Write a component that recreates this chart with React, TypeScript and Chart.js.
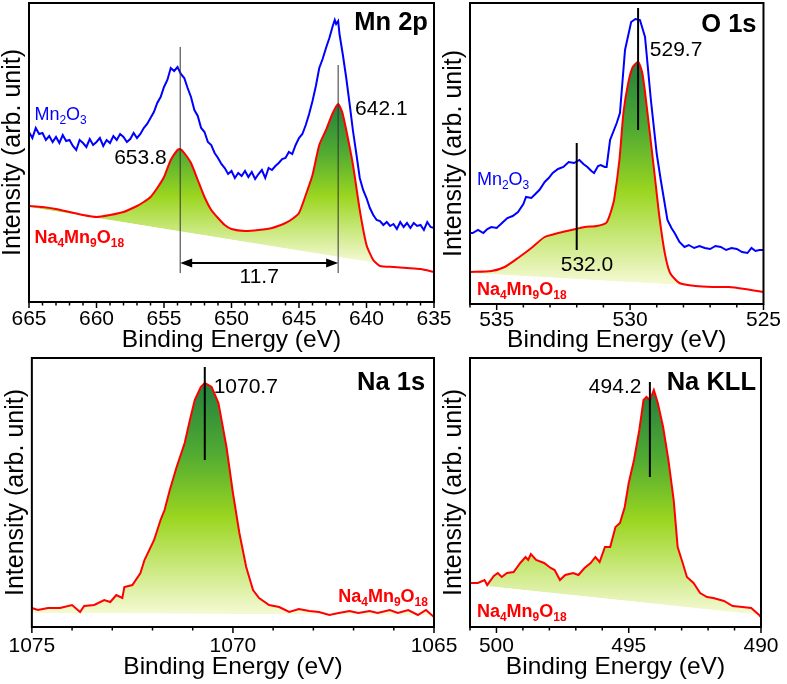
import React, { useEffect, useRef } from 'react';
import { Chart, registerables } from 'chart.js';

Chart.register(...registerables);

const FONT = '"Liberation Sans", Arial, Helvetica, sans-serif';

// ---------------- Mn 2p ----------------
const mnTicks = [665, 660, 655, 650, 645, 640, 635];
const mnRedEnergy = [665, 664, 663, 662, 661, 660, 659, 658, 657, 656.5, 656, 655.5, 655, 654.5, 654, 653.8, 653.5, 653, 652.5, 652, 651.5, 651, 650.5, 650, 649, 648, 647, 646, 645.5, 645, 644.5, 644, 643.5, 643, 642.5, 642.1, 641.8, 641.5, 641, 640.5, 640, 639.5, 639, 638, 637, 636, 635];
const mnRedIntensity = [94, 93, 91, 88, 85, 83, 85, 88, 94, 98, 103, 112, 123, 140, 150, 151, 147, 137, 120, 103, 90, 82, 75, 71, 69, 70, 72, 77, 81, 87, 105, 125, 155, 170, 187, 196, 188, 170, 135, 90, 55, 40, 34, 33, 32, 31, 28];
const mnBlueEnergy = [665, 664.75, 664.5, 664.25, 664, 663.75, 663.5, 663.25, 663, 662.75, 662.5, 662.25, 662, 661.75, 661.5, 661.25, 661, 660.75, 660.5, 660.25, 660, 659.75, 659.5, 659.25, 659, 658.75, 658.5, 658.25, 658, 657.75, 657.5, 657.25, 657, 656.75, 656.5, 656.25, 656, 655.75, 655.5, 655.25, 655, 654.75, 654.5, 654.25, 654, 653.75, 653.5, 653.25, 653, 652.75, 652.5, 652.25, 652, 651.75, 651.5, 651.25, 651, 650.75, 650.5, 650.25, 650, 649.75, 649.5, 649.25, 649, 648.75, 648.5, 648.25, 648, 647.75, 647.5, 647.25, 647, 646.75, 646.5, 646.25, 646, 645.75, 645.5, 645.25, 645, 644.75, 644.5, 644.25, 644, 643.75, 643.5, 643.25, 643, 642.75, 642.5, 642.35, 642.25, 642.1, 642, 641.75, 641.5, 641.25, 641, 640.75, 640.5, 640.25, 640, 639.75, 639.5, 639.25, 639, 638.75, 638.5, 638.25, 638, 637.75, 637.5, 637.25, 637, 636.75, 636.5, 636.25, 636, 635.75, 635.5, 635.25, 635];
const mnBlueIntensity = [168, 162, 172, 166, 167, 160, 164, 158, 163, 157, 165, 159, 160, 154, 150, 160, 157, 153, 161, 155, 158, 162, 154, 160, 157, 164, 160, 166, 163, 158, 161, 167, 162, 166, 172, 176, 182, 188, 197, 203, 213, 220, 232, 229, 233, 226, 222, 212, 203, 190, 184, 172, 168, 158, 155, 147, 142, 136, 132, 126, 129, 122, 127, 124, 129, 123, 128, 121, 126, 130, 122, 132, 130, 134, 137, 141, 142, 148, 146, 155, 162, 166, 175, 186, 199, 214, 232, 241, 252, 262, 274, 280, 276, 279, 266, 245, 222, 196, 169, 146, 122, 110, 102, 92, 85, 80, 79, 75, 78, 74, 76, 71, 78, 73, 77, 72, 77, 74, 75, 70, 78, 73, 72];
const mnBaseEnergy = [665, 639.3];
const mnBaseIntensity = [93, 37];
const mnPeaks = [653.8, 642.1];
const mnSplitting = '11.7';

// ---------------- O 1s ----------------
const oTicks = [535, 530, 525];
const oRedEnergy = [536, 535.2, 534.7, 534.2, 533.7, 533.2, 532.7, 532.2, 531.7, 531.25, 530.9, 530.8, 530.7, 530.6, 530.4, 530.25, 530.07, 529.9, 529.7, 529.55, 529.45, 529.26, 529.07, 528.9, 528.7, 528.5, 528.15, 527.55, 526.9, 526.3, 525.7, 525];
const oRedIntensity = [32, 33, 37, 46, 56, 67, 71, 74, 77, 78, 81, 86, 94, 104, 144, 191, 221, 237, 242, 232, 214, 171, 127, 87, 51, 31, 21, 18, 17, 17, 15, 12];
const oBlueEnergy = [536, 535.9, 535.7, 535.5, 535.35, 535.2, 535, 534.8, 534.6, 534.4, 534.2, 534, 533.9, 533.7, 533.55, 533.4, 533.2, 533.05, 532.9, 532.7, 532.5, 532.3, 532.1, 531.9, 531.75, 531.6, 531.45, 531.35, 531.2, 531.1, 530.95, 530.88, 530.75, 530.5, 530.38, 530.19, 529.96, 529.8, 529.63, 529.44, 529.22, 529, 528.85, 528.6, 528.45, 528.33, 528.15, 527.96, 527.8, 527.6, 527.4, 527.2, 527, 526.8, 526.6, 526.4, 526.2, 526, 525.8, 525.6, 525.45, 525.3, 525.15, 525];
const oBlueIntensity = [71, 71, 74, 71, 75, 77, 76, 81, 86, 88, 92, 100, 107, 106, 110, 114, 122, 126, 131, 135, 137, 142, 141, 144, 140, 137, 133, 131, 138, 139, 137, 137, 164, 181, 191, 254, 282, 285, 284, 267, 204, 150, 124, 84, 76, 71, 62, 57, 59, 56, 58, 56, 55, 58, 57, 54, 56, 55, 52, 51, 56, 53, 54, 54];
const oBaseEnergy = [536, 528.1];
const oBaseIntensity = [31, 19];
const oPeaks = [529.7, 532.0];

// ---------------- Na 1s ----------------
const naTicks = [1075, 1070, 1065];
const naEnergy = [1075, 1074.85, 1074.6, 1074.3, 1074.0, 1073.8, 1073.7, 1073.45, 1073.2, 1073.05, 1072.9, 1072.75, 1072.7, 1072.5, 1072.3, 1072.2, 1071.96, 1071.8, 1071.7, 1071.57, 1071.4, 1071.2, 1071.07, 1070.95, 1070.8, 1070.7, 1070.53, 1070.36, 1070.16, 1070.0, 1069.84, 1069.67, 1069.5, 1069.35, 1069.1, 1068.85, 1068.6, 1068.36, 1068.1, 1067.86, 1067.6, 1067.37, 1067.1, 1066.88, 1066.6, 1066.4, 1066.1, 1065.9, 1065.64, 1065.4, 1065.2, 1065];
const naIntensity = [19, 17, 19, 19, 22, 15, 21, 22, 27, 25, 32, 29, 40, 42, 54, 67, 87, 107, 117, 137, 160, 184, 207, 227, 240, 244, 240, 224, 180, 134, 94, 60, 37, 29, 22, 20, 15, 18, 16, 15, 12, 14, 16, 14, 16, 14, 17, 14, 17, 12, 17, 10];
const naBaseEnergy = [1075, 1065];
const naBaseIntensity = [14, 12];
const naPeaks = [1070.7];

// ---------------- Na KLL ----------------
const kllTicks = [500, 495, 490];
const kllEnergy = [501, 500.9, 500.7, 500.45, 500.35, 500.1, 499.95, 499.8, 499.6, 499.35, 499.1, 498.9, 498.8, 498.7, 498.5, 498.2, 497.95, 497.8, 497.6, 497.4, 497.1, 496.9, 496.67, 496.44, 496.26, 496.1, 495.9, 495.7, 495.5, 495.33, 495.15, 495.0, 494.8, 494.6, 494.44, 494.33, 494.2, 494.05, 493.9, 493.7, 493.5, 493.3, 493.15, 492.96, 492.8, 492.55, 492.3, 492.04, 491.8, 491.4, 491.07, 490.7, 490.37, 490.07, 490];
const kllIntensity = [44, 44, 44, 47, 42, 51, 54, 50, 54, 55, 64, 70, 67, 73, 67, 64, 59, 57, 47, 52, 54, 52, 59, 64, 70, 65, 80, 80, 100, 104, 120, 144, 167, 197, 227, 230, 227, 237, 224, 200, 167, 127, 80, 64, 50, 44, 34, 30, 29, 26, 21, 20, 19, 12, 10];
const kllBaseEnergy = [500.4, 490];
const kllBaseIntensity = [41, 12];
const kllPeaks = [494.2];

const SAMPLE = [['Na', 0], ['4', 1], ['Mn', 0], ['9', 1], ['O', 0], ['18', 1]];
const REF = [['Mn', 0], ['2', 1], ['O', 0], ['3', 1]];

const pts = (xs: number[], ys: number[]) => xs.map((x, i) => ({ x, y: ys[i] }));

function drawRich(ctx: CanvasRenderingContext2D, parts: any[], x: number, y: number, size: number, bold: boolean, color: string, align: string) {
  const w = bold ? 'bold ' : '';
  const sub = Math.round(size * 0.66);
  const widths: number[] = [];
  let total = 0;
  for (const [t, s] of parts) {
    ctx.font = `${w}${s ? sub : size}px ${FONT}`;
    const m = ctx.measureText(t).width;
    widths.push(m);
    total += m;
  }
  let cx = align === 'right' ? x - total : align === 'center' ? x - total / 2 : x;
  ctx.fillStyle = color;
  ctx.textBaseline = 'middle';
  ctx.textAlign = 'left';
  parts.forEach(([t, s], i) => {
    ctx.font = `${w}${s ? sub : size}px ${FONT}`;
    ctx.fillText(t, cx, s ? y + size * 0.33 : y);
    cx += widths[i];
  });
}

function makeDecor(spec: any) {
  return {
    id: 'decor',
    afterDraw(chart: any) {
      const { ctx, chartArea: a, scales } = chart;
      const xs = scales.x;
      const ys = scales.y;
      ctx.save();
      ctx.strokeStyle = '#000';
      ctx.lineWidth = 1.5;
      for (let v = Math.ceil(spec.xMin); v <= Math.floor(spec.xMax); v++) {
        const px = xs.getPixelForValue(v);
        const len = v % 5 === 0 ? 5 : 2.5;
        ctx.beginPath();
        ctx.moveTo(px, a.bottom);
        ctx.lineTo(px, a.bottom + len + 1);
        ctx.stroke();
      }
      ctx.lineWidth = 2;
      ctx.strokeRect(a.left, a.top, a.right - a.left, a.bottom - a.top);
      for (const m of spec.marks) {
        if (m.kind === 'vline') {
          const px = xs.getPixelForValue(m.x);
          ctx.strokeStyle = m.color || '#000';
          ctx.lineWidth = m.w || 2;
          ctx.beginPath();
          ctx.moveTo(px, ys.getPixelForValue(m.y1));
          ctx.lineTo(px, ys.getPixelForValue(m.y2));
          ctx.stroke();
        } else if (m.kind === 'arrow') {
          const p1 = xs.getPixelForValue(m.x1);
          const p2 = xs.getPixelForValue(m.x2);
          const py = ys.getPixelForValue(m.y);
          ctx.strokeStyle = '#000';
          ctx.fillStyle = '#000';
          ctx.lineWidth = 2;
          ctx.beginPath();
          ctx.moveTo(p1 + 8, py);
          ctx.lineTo(p2 - 8, py);
          ctx.stroke();
          ctx.beginPath();
          ctx.moveTo(p1, py);
          ctx.lineTo(p1 + 12, py - 4.5);
          ctx.lineTo(p1 + 12, py + 4.5);
          ctx.closePath();
          ctx.fill();
          ctx.beginPath();
          ctx.moveTo(p2, py);
          ctx.lineTo(p2 - 12, py - 4.5);
          ctx.lineTo(p2 - 12, py + 4.5);
          ctx.closePath();
          ctx.fill();
        } else if (m.kind === 'text') {
          const parts = typeof m.text === 'string' ? [[m.text, 0]] : m.text;
          drawRich(ctx, parts, xs.getPixelForValue(m.x), ys.getPixelForValue(m.y), m.size || 21, !!m.bold, m.color || '#000', m.align || 'left');
        }
      }
      ctx.restore();
    },
  };
}

function gradientFor(spec: any) {
  return (c: any) => {
    const chart = c.chart;
    if (!chart.chartArea || !chart.scales.y) return 'rgba(0,0,0,0)';
    const ys = chart.scales.y;
    const top = ys.getPixelForValue(Math.max(...spec.red));
    const bot = ys.getPixelForValue(Math.min(...spec.baseY));
    const g = chart.ctx.createLinearGradient(0, top, 0, bot);
    g.addColorStop(0, 'rgb(36,128,60)');
    g.addColorStop(0.3, 'rgb(80,170,50)');
    g.addColorStop(0.58, 'rgb(155,214,32)');
    g.addColorStop(1, 'rgb(246,250,214)');
    return g;
  };
}

function Panel({ spec }: { spec: any }) {
  const ref = useRef<HTMLCanvasElement>(null);
  useEffect(() => {
    if (!ref.current) return;
    const datasets: any[] = [
      {
        data: pts(spec.baseX, spec.baseY),
        borderColor: 'rgba(0,0,0,0)',
        borderWidth: 0,
        pointRadius: 0,
        fill: false,
      },
      {
        data: pts(spec.redX, spec.red),
        borderColor: '#ff0000',
        borderWidth: 2,
        pointRadius: 0,
        tension: spec.redTension,
        backgroundColor: gradientFor(spec),
        fill: { target: 0, below: 'rgba(0,0,0,0)' },
      },
    ];
    if (spec.blueX) {
      datasets.push({
        data: pts(spec.blueX, spec.blue),
        borderColor: '#0000ff',
        borderWidth: 2,
        pointRadius: 0,
        tension: 0,
        fill: false,
      });
    }
    const chart = new Chart(ref.current, {
      type: 'line',
      data: { datasets },
      plugins: [makeDecor(spec)],
      options: {
        responsive: false,
        animation: false,
        devicePixelRatio: 1,
        events: [],
        layout: { padding: { top: spec.padTop, right: spec.padRight, left: 0, bottom: 0 } },
        plugins: { legend: { display: false }, tooltip: { enabled: false } },
        scales: {
          x: {
            type: 'linear',
            reverse: true,
            min: spec.xMin,
            max: spec.xMax,
            grid: { display: false, drawTicks: false },
            border: { display: false },
            afterBuildTicks: (s: any) => {
              s.ticks = spec.ticks.map((v: number) => ({ value: v }));
            },
            afterFit: (s: any) => {
              s.height = spec.xHeight;
            },
            ticks: {
              color: '#000',
              font: { family: FONT, size: 21, lineHeight: 1 },
              padding: spec.tickPad,
              maxRotation: 0,
              autoSkip: false,
              callback: (v: any) => String(v),
            },
            title: {
              display: true,
              text: 'Binding Energy (eV)',
              color: '#000',
              font: { family: FONT, size: 24.5, lineHeight: 1 },
              padding: { top: 0, bottom: spec.titlePad },
            },
          },
          y: {
            type: 'linear',
            min: spec.yMin,
            max: spec.yMax,
            grid: { display: false, drawTicks: false },
            border: { display: false },
            ticks: { display: false },
            afterFit: (s: any) => {
              s.width = 29;
            },
            title: {
              display: true,
              text: 'Intensity (arb. unit)',
              color: '#000',
              font: { family: FONT, size: 25, lineHeight: 1 },
              padding: { top: 1, bottom: 0 },
            },
          },
        },
      } as any,
    });
    return () => chart.destroy();
  }, [spec]);
  return (
    <canvas
      ref={ref}
      width={spec.width}
      height={spec.height}
      style={{ position: 'absolute', left: spec.left, top: spec.top, width: spec.width, height: spec.height }}
    />
  );
}

const panels: any[] = [
  {
    left: 0, top: 0, width: 470, height: 356, padTop: 3, padRight: 36, xHeight: 54, tickPad: 6.5, titlePad: 4,
    xMin: 635, xMax: 665, yMin: -2, yMax: 297, ticks: mnTicks, redTension: 0.2,
    redX: mnRedEnergy, red: mnRedIntensity, blueX: mnBlueEnergy, blue: mnBlueIntensity,
    baseX: mnBaseEnergy, baseY: mnBaseIntensity,
    marks: [
      { kind: 'vline', x: mnPeaks[0], y1: 253, y2: 27, w: 1, color: '#333' },
      { kind: 'vline', x: mnPeaks[1], y1: 235, y2: 27, w: 1, color: '#333' },
      { kind: 'arrow', x1: mnPeaks[0], x2: mnPeaks[1], y: 37 },
      { kind: 'text', x: (mnPeaks[0] + mnPeaks[1]) / 2, y: 23, text: mnSplitting, align: 'center' },
      { kind: 'text', x: 654.8, y: 142, text: mnPeaks[0].toFixed(1), align: 'right' },
      { kind: 'text', x: 640.85, y: 191, text: mnPeaks[1].toFixed(1), align: 'left' },
      { kind: 'text', x: 664.6, y: 185, text: REF, size: 18, color: '#0000ff' },
      { kind: 'text', x: 664.6, y: 62, text: SAMPLE, size: 18, bold: true, color: '#ff0000' },
      { kind: 'text', x: 635.45, y: 277, text: 'Mn 2p', size: 25.5, bold: true, align: 'right' },
    ],
  },
  {
    left: 441, top: 0, width: 346, height: 356, padTop: 3, padRight: 20, xHeight: 52, tickPad: 6, titlePad: 4,
    xMin: 525, xMax: 536, yMin: 0, yMax: 301, ticks: oTicks, redTension: 0.2,
    redX: oRedEnergy, red: oRedIntensity, blueX: oBlueEnergy, blue: oBlueIntensity,
    baseX: oBaseEnergy, baseY: oBaseIntensity,
    marks: [
      { kind: 'vline', x: oPeaks[0], y1: 296, y2: 174 },
      { kind: 'text', x: 529.26, y: 254, text: oPeaks[0].toFixed(1), align: 'left' },
      { kind: 'vline', x: oPeaks[1], y1: 161, y2: 54 },
      { kind: 'text', x: 532.6, y: 39, text: oPeaks[1].toFixed(1), align: 'left' },
      { kind: 'text', x: 525.26, y: 279, text: 'O 1s', size: 25.5, bold: true, align: 'right' },
      { kind: 'text', x: 535.74, y: 124, text: REF, size: 18, color: '#0000ff' },
      { kind: 'text', x: 535.74, y: 14, text: SAMPLE, size: 18, bold: true, color: '#ff0000' },
    ],
  },
  {
    left: 0, top: 356, width: 470, height: 328, padTop: 2, padRight: 36, xHeight: 57, tickPad: 8.5, titlePad: 5,
    xMin: 1065, xMax: 1075, yMin: 0, yMax: 269, ticks: naTicks, redTension: 0,
    redX: naEnergy, red: naIntensity, baseX: naBaseEnergy, baseY: naBaseIntensity,
    marks: [
      { kind: 'vline', x: naPeaks[0], y1: 260, y2: 167 },
      { kind: 'text', x: 1070.48, y: 240, text: naPeaks[0].toFixed(1), align: 'left' },
      { kind: 'text', x: 1065.22, y: 244, text: 'Na 1s', size: 25.5, bold: true, align: 'right' },
      { kind: 'text', x: 1065.15, y: 30, text: SAMPLE, size: 18, bold: true, color: '#ff0000', align: 'right' },
    ],
  },
  {
    left: 441, top: 356, width: 346, height: 328, padTop: 2, padRight: 20, xHeight: 57, tickPad: 8.5, titlePad: 5,
    xMin: 490, xMax: 501, yMin: 0, yMax: 269, ticks: kllTicks, redTension: 0,
    redX: kllEnergy, red: kllIntensity, baseX: kllBaseEnergy, baseY: kllBaseIntensity,
    marks: [
      { kind: 'vline', x: kllPeaks[0], y1: 245, y2: 150 },
      { kind: 'text', x: 494.52, y: 240, text: kllPeaks[0].toFixed(1), align: 'right' },
      { kind: 'text', x: 490.19, y: 244, text: 'Na KLL', size: 25.5, bold: true, align: 'right' },
      { kind: 'text', x: 500.74, y: 15, text: SAMPLE, size: 18, bold: true, color: '#ff0000' },
    ],
  },
];

export default function App() {
  return (
    <div style={{ position: 'fixed', left: 0, top: 0, width: 787, height: 684, background: '#fff', overflow: 'hidden' }}>
      {panels.map((p, i) => (
        <Panel key={i} spec={p} />
      ))}
    </div>
  );
}
